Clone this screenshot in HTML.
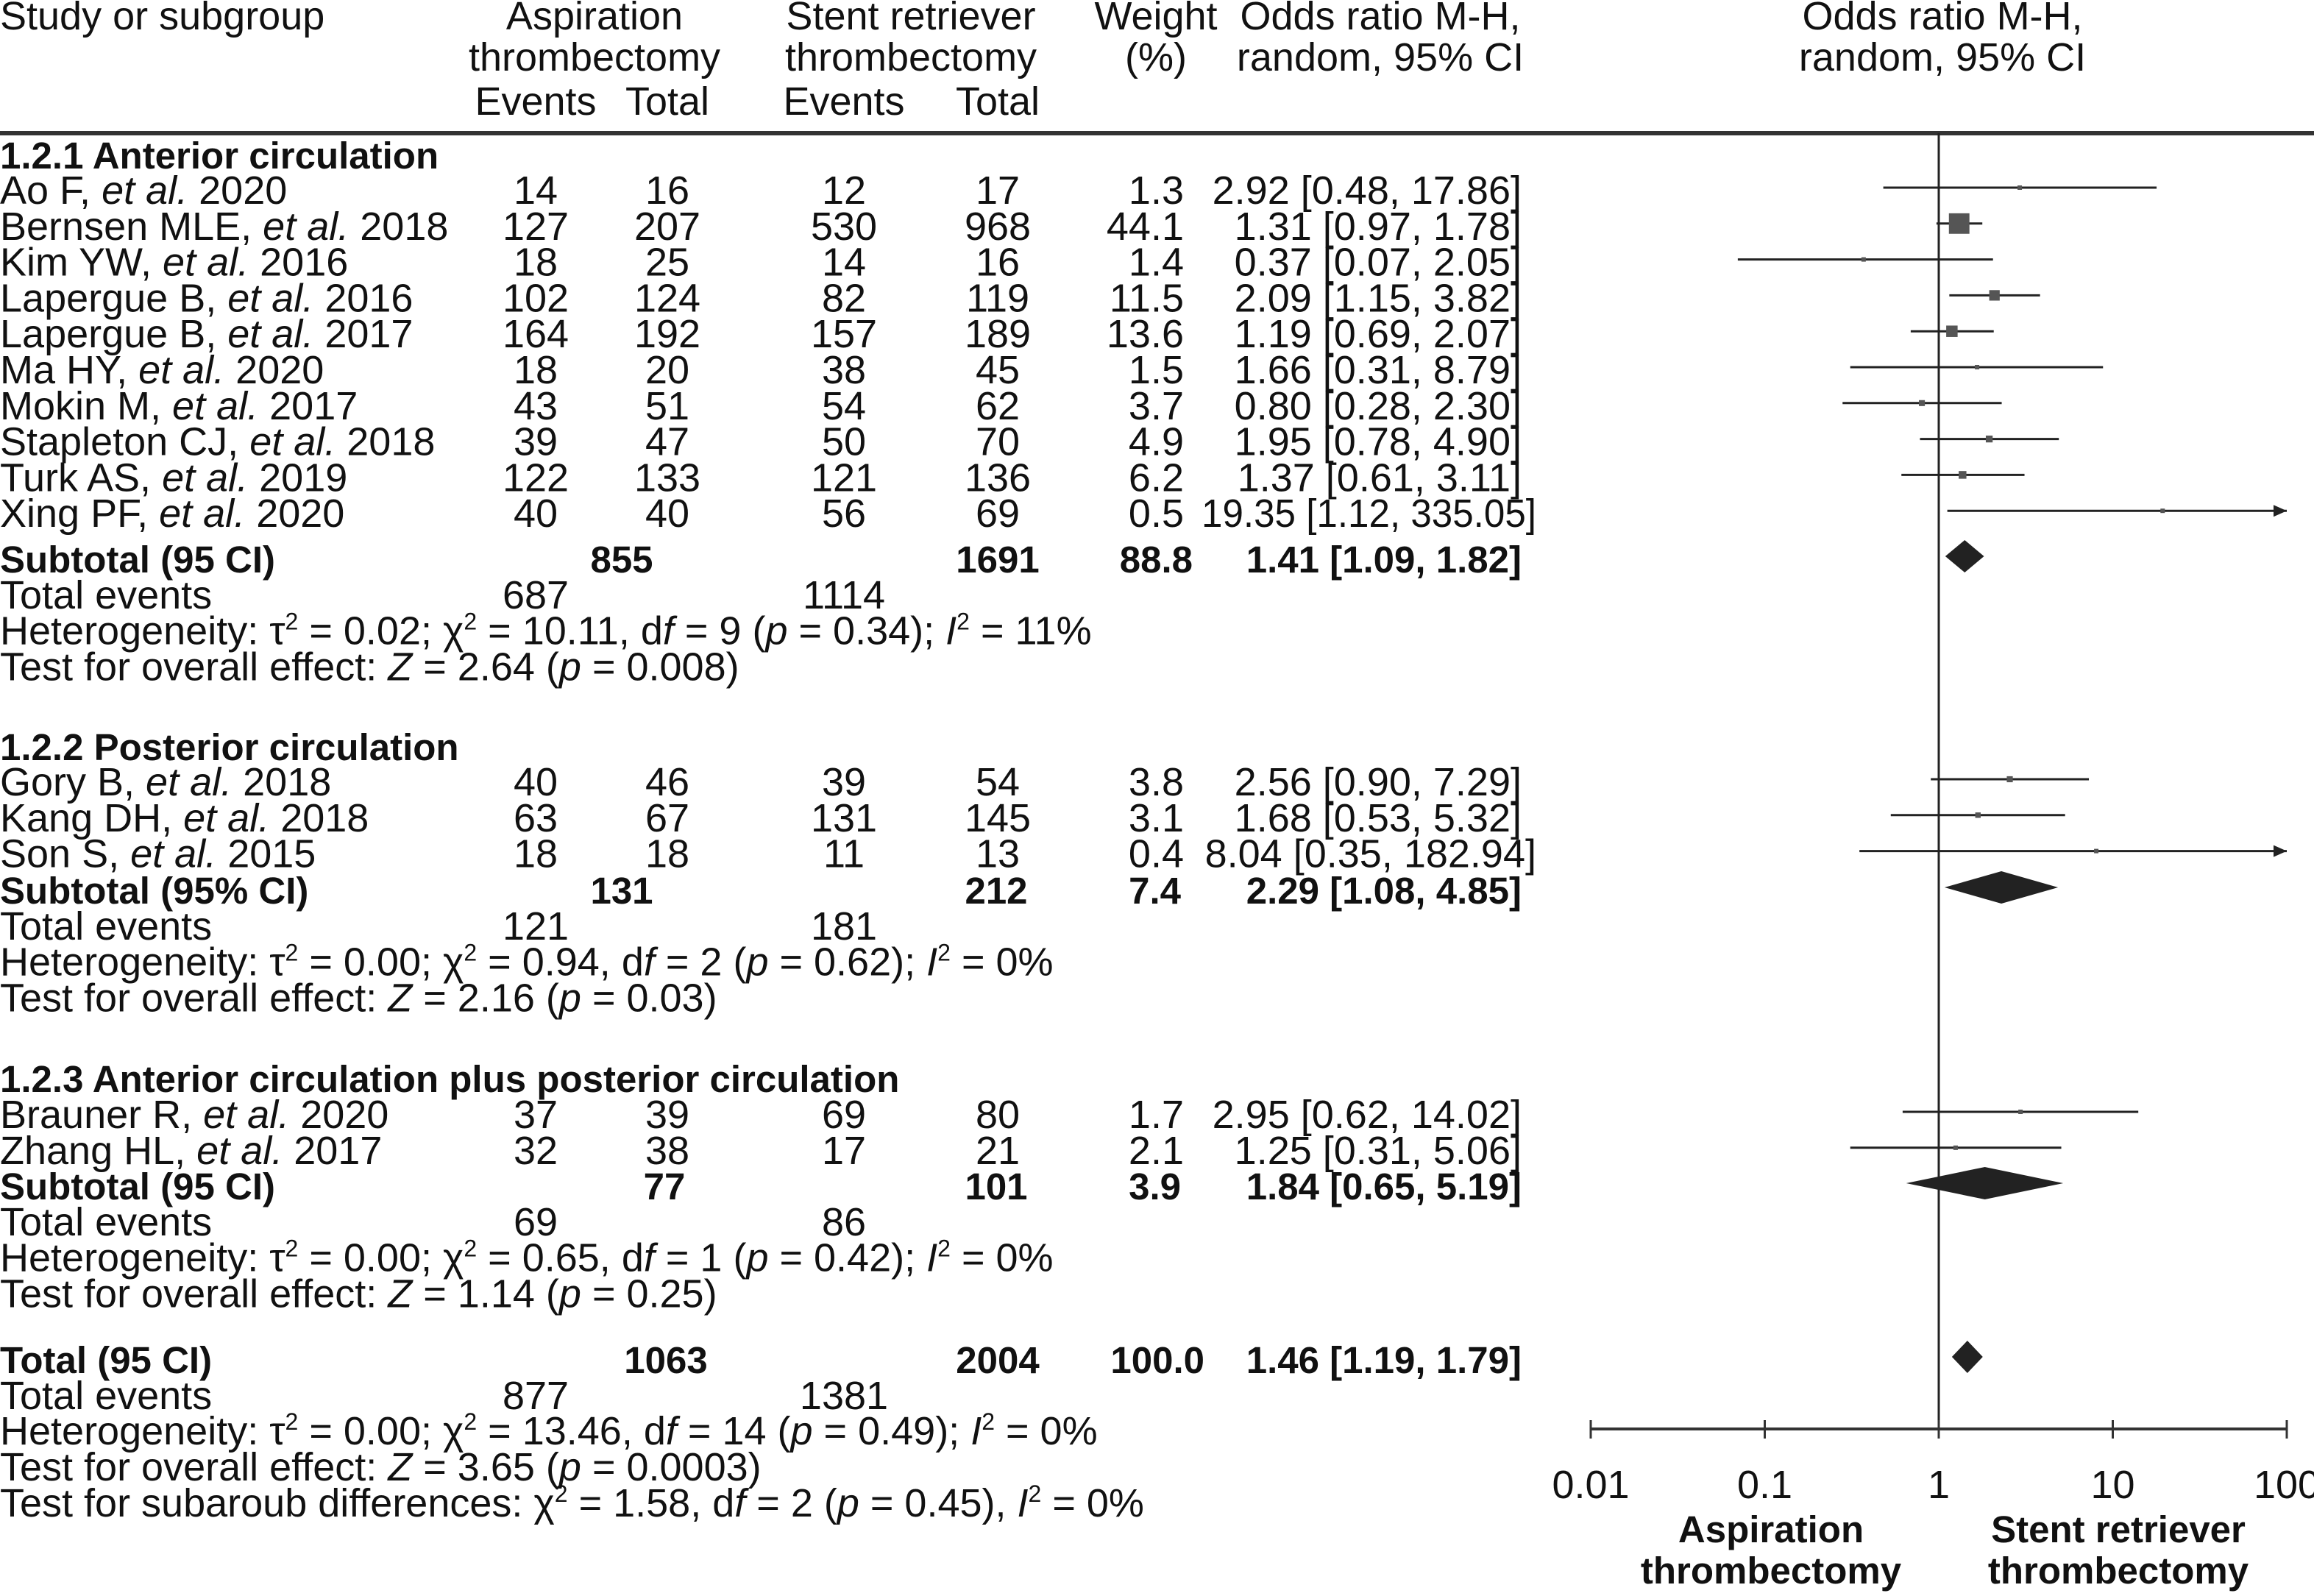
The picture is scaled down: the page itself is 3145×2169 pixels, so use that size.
<!DOCTYPE html>
<html><head><meta charset="utf-8"><style>
html,body{margin:0;padding:0;background:#fff;}
svg{display:block;}
text{font-family:"Liberation Sans",sans-serif;font-size:54px;fill:#111;}
.b{font-weight:bold;font-size:51px;}
</style></head><body>
<svg id="fig" width="3145" height="2169" viewBox="0 0 3145 2169" xmlns="http://www.w3.org/2000/svg"></svg>
<script>
// ---- data ----
const studyNames = ["Ao F","Bernsen MLE","Kim YW","Lapergue B","Lapergue B","Ma HY","Mokin M","Stapleton CJ","Turk AS","Xing PF","Gory B","Kang DH","Son S","Brauner R","Zhang HL"];
const studyYears = ["2020","2018","2016","2016","2017","2020","2017","2018","2019","2020","2018","2018","2015","2020","2017"];
const aspEvents = [14,127,18,102,164,18,43,39,122,40,40,63,18,37,32];
const aspTotal = [16,207,25,124,192,20,51,47,133,40,46,67,18,39,38];
const srEvents = [12,530,14,82,157,38,54,50,121,56,39,131,11,69,17];
const srTotal = [17,968,16,119,189,45,62,70,136,69,54,145,13,80,21];
const weights = [1.3,44.1,1.4,11.5,13.6,1.5,3.7,4.9,6.2,0.5,3.8,3.1,0.4,1.7,2.1];
const orVal = [2.92,1.31,0.37,2.09,1.19,1.66,0.80,1.95,1.37,19.35,2.56,1.68,8.04,2.95,1.25];
const orLo = [0.48,0.97,0.07,1.15,0.69,0.31,0.28,0.78,0.61,1.12,0.90,0.53,0.35,0.62,0.31];
const orHi = [17.86,1.78,2.05,3.82,2.07,8.79,2.30,4.90,3.11,335.05,7.29,5.32,182.94,14.02,5.06];
const subOr = [1.41,2.29,1.84,1.46];
const subLo = [1.09,1.08,0.65,1.19];
const subHi = [1.82,4.85,5.19,1.79];
const axisTicks = [0.01,0.1,1,10,100];
const tickLabels = ["0.01","0.1","1","10","100"];

const svg = document.getElementById('fig');
const NS = "http://www.w3.org/2000/svg";
const X0 = 2635, DEC = 236.5;
function xs(v){ return X0 + DEC*Math.log10(v); }
function el(tag, attrs){ const e=document.createElementNS(NS,tag); for(const k in attrs) e.setAttribute(k,attrs[k]); svg.appendChild(e); return e; }
function txt(x,y,s,anchor,cls){ const t=el('text',{x:x,y:y,'text-anchor':anchor||'start'}); if(cls) t.setAttribute('class',cls); t.innerHTML=s; return t; }
function fmt(v){ return v.toFixed(2); }

let t;
t=txt(0,40,"Study or subgroup");  
t=txt(808,40,"Aspiration","middle");  
t=txt(808,96,"thrombectomy","middle");  
t=txt(728,156,"Events","middle");  
t=txt(907,156,"Total","middle");  
t=txt(1238,40,"Stent retriever","middle");  
t=txt(1238,96,"thrombectomy","middle");  
t=txt(1147,156,"Events","middle");  
t=txt(1356,156,"Total","middle");  
t=txt(1571,40,"Weight","middle");  
t=txt(1571,96,"(%)","middle");  
t=txt(1876,40,"Odds ratio M-H,","middle");  
t=txt(1876,96,"random, 95% CI","middle");  
t=txt(2640,40,"Odds ratio M-H,","middle");  
t=txt(2640,96,"random, 95% CI","middle");  

let ln=el('rect',{x:0,y:178,width:3145,height:6,fill:'#333'});
 

ln=el('line',{x1:X0,y1:181,x2:X0,y2:1942,stroke:'#222','stroke-width':3});
 

const it = s=>'<tspan font-style="italic">'+s+'</tspan>';
const sup = s=>'<tspan dy="-20" font-size="32">'+s+'</tspan><tspan dy="20"> </tspan>';

const sections = [
 {title:"1.2.1 Anterior circulation", ty:229, idx:[0,1,2,3,4,5,6,7,8,9], y0:277, subY:778, subLabel:"Subtotal (95 CI)", subT:[845,"855",1356,"1691"], subW:[1621,"88.8"], subOrTxt:"1.41 [1.09, 1.82]", te:["687","1114"], het:"Heterogeneity: τ"+sup("2")+"= 0.02; χ"+sup("2")+"= 10.11, d"+it("f")+" = 9 ("+it("p")+" = 0.34); "+it("I")+sup("2")+"= 11%", test:"Test for overall effect: "+it("Z")+" = 2.64 ("+it("p")+" = 0.008)"},
 {title:"1.2.2 Posterior circulation", ty:1033, idx:[10,11,12], y0:1081, subY:1228, subLabel:"Subtotal (95% CI)", subT:[845,"131",1354,"212"], subW:[1605,"7.4"], subOrTxt:"2.29 [1.08, 4.85]", te:["121","181"], het:"Heterogeneity: τ"+sup("2")+"= 0.00; χ"+sup("2")+"= 0.94, d"+it("f")+" = 2 ("+it("p")+" = 0.62); "+it("I")+sup("2")+"= 0%", test:"Test for overall effect: "+it("Z")+" = 2.16 ("+it("p")+" = 0.03)"},
 {title:"1.2.3 Anterior circulation plus posterior circulation", ty:1484, idx:[13,14], y0:1533, subY:1630, subLabel:"Subtotal (95 CI)", subT:[903,"77",1354,"101"], subW:[1605,"3.9"], subOrTxt:"1.84 [0.65, 5.19]", te:["69","86"], het:"Heterogeneity: τ"+sup("2")+"= 0.00; χ"+sup("2")+"= 0.65, d"+it("f")+" = 1 ("+it("p")+" = 0.42); "+it("I")+sup("2")+"= 0%", test:"Test for overall effect: "+it("Z")+" = 1.14 ("+it("p")+" = 0.25)"}
];
const STEP = 48.8;

function diamond(k, y, name){
  const h=22;
  const p=el('polygon',{points:[xs(subLo[k])+','+y, xs(subOr[k])+','+(y-h), xs(subHi[k])+','+y, xs(subOr[k])+','+(y+h)].join(' '), fill:'#222'});
   
}

sections.forEach((s,si)=>{
  let tt=txt(0,s.ty,s.title,'start','b');
   
  s.idx.forEach((i,r)=>{
    const y = s.y0 + r*STEP;
    let a=txt(0,y,studyNames[i]+", "+it("et al.")+" "+studyYears[i]);
     
    a=txt(728,y,aspEvents[i],'middle');  
    a=txt(907,y,aspTotal[i],'middle');  
    a=txt(1147,y,srEvents[i],'middle');  
    a=txt(1356,y,srTotal[i],'middle');  
    a=txt(1609,y,weights[i].toFixed(1),'end');  
    const orText = fmt(orVal[i])+" ["+fmt(orLo[i])+", "+fmt(orHi[i])+"]";
    a=txt(orHi[i]>100?2088:2068,y,orText,'end');
    if(orText.length>=20){ a.setAttribute('textLength','455'); a.setAttribute('lengthAdjust','spacingAndGlyphs'); }
     
    const cy = y-22;
    const hiX = Math.min(xs(orHi[i]), xs(100));
    const lo = Math.max(xs(orLo[i]), xs(0.01));
    let l=el('line',{x1:lo,y1:cy,x2:hiX,y2:cy,stroke:'#222','stroke-width':3});
     
    if(orHi[i]>100){
      let ar=el('polygon',{points:(hiX)+','+cy+' '+(hiX-18)+','+(cy-8)+' '+(hiX-18)+','+(cy+8),fill:'#222'});
       
    }
    const sz = Math.max(6, 4.2*Math.sqrt(weights[i]));
    let sq=el('rect',{x:xs(orVal[i])-sz/2,y:cy-sz/2,width:sz,height:sz,fill:'#555'});
     
  });
  let b=txt(0,s.subY,s.subLabel,'start','b');  
  b=txt(s.subT[0],s.subY,s.subT[1],'middle','b');  
  b=txt(s.subT[2],s.subY,s.subT[3],'middle','b');  
  b=txt(s.subW[0],s.subY,s.subW[1],'end','b');  
  b=txt(2068,s.subY,s.subOrTxt,'end','b');  
  diamond(si, s.subY-22, 'subtotal-diamond');
  const y2=s.subY+STEP;
  b=txt(0,y2,"Total events");  
  b=txt(728,y2,s.te[0],'middle');  
  b=txt(1147,y2,s.te[1],'middle');  
  b=txt(0,y2+STEP,s.het);  
  b=txt(0,y2+2*STEP,s.test);  
});

let o=txt(0,1866,"Total (95 CI)",'start','b');  
o=txt(905,1866,"1063",'middle','b');  
o=txt(1356,1866,"2004",'middle','b');  
o=txt(1637,1866,"100.0",'end','b');  
o=txt(2068,1866,"1.46 [1.19, 1.79]",'end','b');  
diamond(3,1844,'total-diamond');
o=txt(0,1915,"Total events");  
o=txt(728,1915,"877",'middle');  
o=txt(1147,1915,"1381",'middle');  
o=txt(0,1963,"Heterogeneity: τ"+sup("2")+"= 0.00; χ"+sup("2")+"= 13.46, d"+it("f")+" = 14 ("+it("p")+" = 0.49); "+it("I")+sup("2")+"= 0%");  
o=txt(0,2012,"Test for overall effect: "+it("Z")+" = 3.65 ("+it("p")+" = 0.0003)");  
o=txt(0,2061,"Test for subaroub differences: χ"+sup("2")+"= 1.58, d"+it("f")+" = 2 ("+it("p")+" = 0.45), "+it("I")+sup("2")+"= 0%");  

let ax=el('line',{x1:xs(0.01),y1:1942,x2:xs(100),y2:1942,stroke:'#333','stroke-width':4});
 
axisTicks.forEach((v,k)=>{
  let tk=el('line',{x1:xs(v),y1:1930,x2:xs(v),y2:1955,stroke:'#333','stroke-width':3});
   
  let tl=txt(xs(v),2036,tickLabels[k],'middle');
   
});
o=txt(2407,2096,"Aspiration",'middle','b');  
o=txt(2407,2152,"thrombectomy",'middle','b');  
o=txt(2879,2096,"Stent retriever",'middle','b');  
o=txt(2879,2152,"thrombectomy",'middle','b');  
</script>
</body></html>
